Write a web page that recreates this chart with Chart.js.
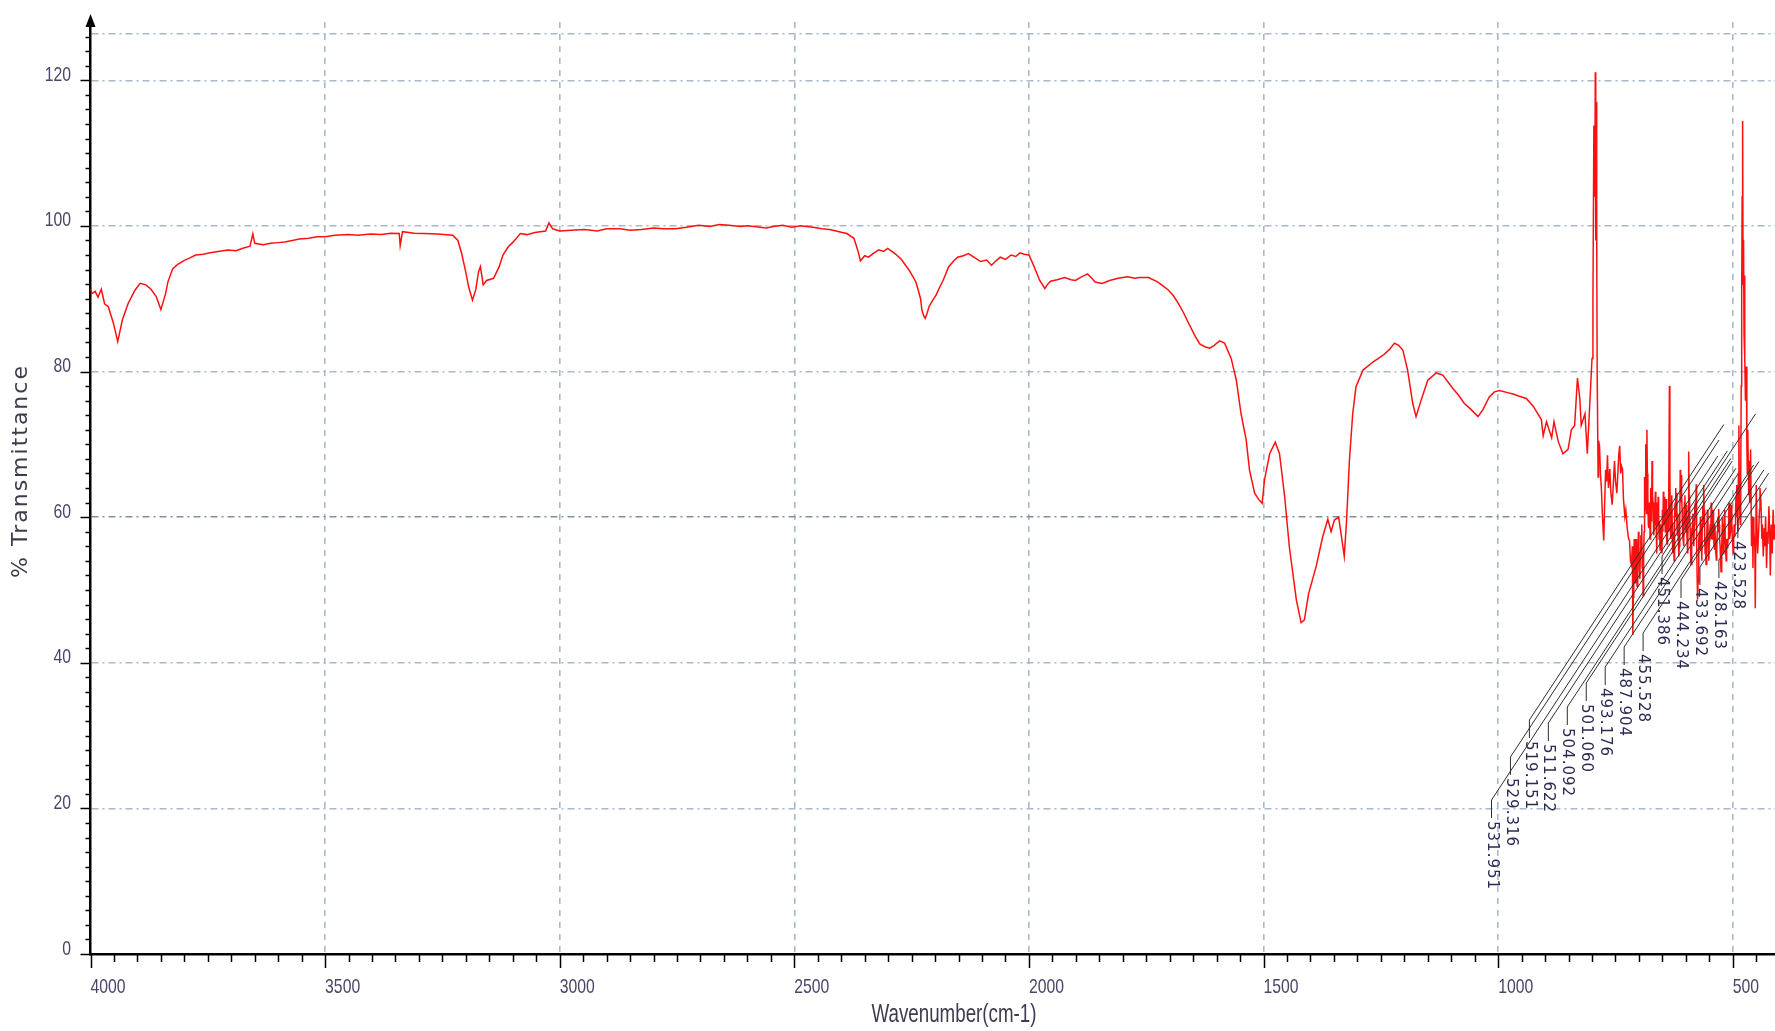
<!DOCTYPE html>
<html>
<head>
<meta charset="utf-8">
<title>IR spectrum</title>
<script src="https://cdn.jsdelivr.net/npm/chart.js@4.4.3/dist/chart.umd.min.js"></script>
<style>
  html, body { margin: 0; padding: 0; background: #fff; }
  #wrap { width: 1775px; height: 1031px; }
</style>
</head>
<body>
<div id="wrap"><canvas id="ir" width="1775" height="1031"></canvas></div>
<script>
// spectrum 4000-2000 cm-1
const wnHigh = [
  4000, 3997, 3990, 3984, 3977, 3970, 3962, 3951, 3942, 3932, 3920, 3905, 3894, 3882, 3871, 3860, 3850, 3840,
  3835, 3825, 3814, 3799, 3788, 3776, 3760, 3745, 3725, 3707, 3690, 3677, 3660, 3654, 3650, 3632, 3616, 3600,
  3586, 3570, 3555, 3535, 3517, 3500, 3479, 3450, 3430, 3403, 3380, 3360, 3342, 3340, 3335, 3310, 3289, 3260,
  3228, 3217, 3209, 3201, 3194, 3186, 3179, 3173, 3169, 3163, 3156, 3141, 3129, 3121, 3110, 3099, 3084, 3070,
  3053, 3030, 3023, 3015, 3000, 2975, 2947, 2920, 2900, 2871, 2850, 2825, 2800, 2780, 2753, 2730, 2704, 2680,
  2660, 2639, 2615, 2600, 2586, 2560, 2545, 2525, 2505, 2487, 2460, 2441, 2425, 2411, 2398, 2388, 2373, 2365,
  2359, 2350, 2342, 2330, 2320, 2310, 2301, 2290, 2282, 2272, 2263, 2255, 2247, 2241, 2236, 2231, 2228, 2224,
  2221, 2217, 2213, 2205, 2198, 2190, 2183, 2171, 2160, 2152, 2140, 2129, 2115, 2103, 2090, 2080, 2070, 2061,
  2050, 2038, 2028, 2019, 2010, 2000
];
const tHigh = [
  91.4, 90.7, 91.0, 90.2, 91.3, 89.3, 88.9, 86.6, 84.1, 87.1, 89.3, 91.2, 92.1, 91.9, 91.3, 90.3, 88.5, 90.7,
  92.3, 94.1, 94.7, 95.3, 95.6, 96.0, 96.1, 96.3, 96.5, 96.7, 96.6, 96.9, 97.2, 98.9, 97.6, 97.4, 97.6, 97.7,
  97.8, 98.0, 98.2, 98.3, 98.5, 98.5, 98.7, 98.8, 98.7, 98.9, 98.8, 99.0, 98.95, 97.3, 99.2, 99.0, 98.95, 98.9,
  98.7, 98.0, 96.2, 93.9, 91.6, 89.8, 91.2, 93.7, 94.4, 91.9, 92.5, 92.8, 94.4, 96.0, 97.1, 97.8, 98.95, 98.8,
  99.1, 99.3, 100.4, 99.6, 99.3, 99.4, 99.5, 99.3, 99.6, 99.6, 99.4, 99.5, 99.7, 99.6, 99.6, 99.8, 100.1, 99.9,
  100.2, 100.1, 99.9, 100.0, 99.9, 99.7, 99.9, 100.1, 99.8, 100.0, 99.8, 99.6, 99.5, 99.3, 99.1, 98.95, 98.3, 96.7,
  95.2, 95.9, 95.7, 96.3, 96.7, 96.5, 96.9, 96.4, 96.0, 95.4, 94.6, 93.9, 93.0, 92.3, 91.2, 90.0, 88.4, 87.6,
  87.3, 88.0, 88.9, 89.8, 90.5, 91.6, 92.5, 94.4, 95.2, 95.7, 95.9, 96.2, 95.6, 95.1, 95.3, 94.6, 95.2, 95.7,
  95.4, 96.0, 95.8, 96.3, 96.1, 96.0
];

// spectrum 1999-800 cm-1
const wnMid = [
  1989, 1977, 1966, 1960, 1954, 1940, 1924, 1910, 1901, 1888, 1875, 1866,
  1859, 1844, 1828, 1810, 1790, 1775, 1764, 1745, 1726, 1715, 1703, 1692, 1681, 1670, 1661, 1647, 1636, 1625,
  1615, 1605, 1594, 1583, 1569, 1558, 1548, 1537, 1530, 1519, 1510, 1503, 1498, 1487, 1475, 1466, 1455, 1445,
  1430, 1420, 1413, 1404, 1388, 1374, 1363, 1356, 1349, 1340, 1335, 1328, 1323, 1317, 1310, 1303, 1288, 1267,
  1246, 1232, 1221, 1212, 1203, 1193, 1182, 1175, 1164, 1150, 1132, 1118, 1097, 1085, 1072, 1058, 1043, 1033,
  1019, 1008, 997, 980, 968, 955, 940, 925, 908, 904, 897, 886, 881, 872, 862, 851, 844, 837, 831, 826, 823, 815,
  810, 805, 800
];
const tMid = [
  94.4, 92.5, 91.4, 92.0, 92.4, 92.6, 92.9, 92.6, 92.5, 93.0, 93.4, 92.8,
  92.3, 92.1, 92.5, 92.8, 93.0, 92.8, 92.9, 92.9, 92.3, 91.8, 91.2, 90.4, 89.3, 88.0, 86.8, 85.0, 83.8, 83.4,
  83.2, 83.6, 84.2, 83.9, 81.8, 78.8, 74.2, 70.6, 66.5, 63.3, 62.4, 61.9, 65.1, 68.7, 70.3, 68.7, 62.8, 55.9,
  48.6, 45.5, 45.9, 49.5, 53.2, 57.3, 59.7, 58.0, 59.6, 60.0, 57.8, 54.6, 59.6, 67.8, 74.2, 77.9, 80.2, 81.3,
  82.2, 83.0, 83.9, 83.6, 82.9, 80.2, 75.6, 73.8, 76.1, 78.8, 79.8, 79.5, 77.7, 76.8, 75.6, 74.8, 73.8, 74.7,
  76.5, 77.2, 77.4, 77.1, 76.9, 76.6, 76.3, 75.2, 73.4, 71.2, 73.1, 70.9, 73.1, 70.4, 68.7, 69.3, 72.0, 72.6, 79.1, 76.3, 72.6, 74.2,
  68.7, 75.2, 81.8
];

// 798-713 cm-1: the big spike and the drop into the noisy end
const wnFar = [
  798, 796, 794, 793, 792, 791, 790, 789, 787, 786,
  784, 782, 780, 778, 776, 775, 773, 771, 769, 767,
  765, 762, 760, 757, 755, 752, 750, 747, 745, 743,
  741, 739, 737, 735, 733, 730, 728, 725, 722, 720,
  718, 716, 714, 713
];
const tFar = [
  90.0, 113.8, 104.0, 121.1, 98.0, 117.0, 99.0, 80.0, 65.5, 70.5,
  69.8, 66.0, 63.9, 60.5, 58.0, 56.8, 62.0, 66.5, 64.9, 68.5,
  64.0, 66.6, 63.5, 61.7, 64.0, 67.7, 65.0, 63.3, 66.0, 68.5,
  69.8, 66.0, 67.0, 66.6, 62.5, 60.1, 61.0, 58.5, 57.0, 56.8,
  54.0, 53.5, 56.0, 43.8
];

// 712-482 cm-1, every point
const wnDense = [
  712, 711, 710, 709, 708, 707, 706, 705, 704, 703,
  702, 701, 700, 699, 698, 697, 696, 695, 694, 693,
  692, 691, 690, 689, 688, 687, 686, 685, 684, 683,
  682, 681, 680, 679, 678, 677, 676, 675, 674, 673,
  672, 671, 670, 669, 668, 667, 666, 665, 664, 663,
  662, 661, 660, 659, 658, 657, 656, 655, 654, 653,
  652, 651, 650, 649, 648, 647, 646, 645, 644, 643,
  642, 641, 640, 639, 638, 637, 636, 635, 634, 633,
  632, 631, 630, 629, 628, 627, 626, 625, 624, 623,
  622, 621, 620, 619, 618, 617, 616, 615, 614, 613,
  612, 611, 610, 609, 608, 607, 606, 605, 604, 603,
  602, 601, 600, 599, 598, 597, 596, 595, 594, 593,
  592, 591, 590, 589, 588, 587, 586, 585, 584, 583,
  582, 581, 580, 579, 578, 577, 576, 575, 574, 573,
  572, 571, 570, 569, 568, 567, 566, 565, 564, 563,
  562, 561, 560, 559, 558, 557, 556, 555, 554, 553,
  552, 551, 550, 549, 548, 547, 546, 545, 544, 543,
  542, 541, 540, 539, 538, 537, 536, 535, 534, 533,
  532, 531, 530, 529, 528, 527, 526, 525, 524, 523,
  522, 521, 520, 519, 518, 517, 516, 515, 514, 513,
  512, 511, 510, 509, 508, 507, 506, 505, 504, 503,
  502, 501, 500, 499, 498, 497, 496, 495, 494, 493,
  492, 491, 490, 489, 488, 487, 486, 485, 484, 483,
  482
];
const tDense = [
  49, 52, 57, 55.7, 51, 53, 57, 55.5, 50.5, 52,
  54.6, 58, 56, 53, 51.5, 55, 57.5, 56.3, 59, 53,
  55, 49.2, 54, 58, 65.5, 61, 70, 64, 60.5, 72,
  66, 63, 59, 58.5, 62, 60.1, 57, 64, 59.5, 61,
  67.7, 63, 62, 58, 57.5, 59, 61, 63.5, 60, 58,
  55, 62, 59, 62.8, 60, 57, 59.5, 55.5, 58, 59,
  57.9, 55, 61, 58, 63.5, 61, 59, 62.8, 58, 60,
  62.5, 57, 56.3, 59, 61, 58, 63, 78, 66, 58.5,
  57, 61.1, 63, 59, 55, 58, 57.3, 54, 60, 62,
  64, 60, 63.3, 59, 57.5, 60.5, 57, 54.6, 56, 59,
  66.5, 62, 65.8, 63, 61, 58, 57, 59, 56, 62,
  63, 60, 58, 61.7, 58, 56, 55, 60, 69, 63,
  60, 58.5, 56, 53.5, 55, 57, 59, 60.5, 58, 56,
  59, 61, 62, 60, 64.5, 57, 52, 48.7, 51, 55,
  57, 58, 55.5, 60, 58, 56.3, 54, 59, 61.5, 59,
  64.4, 61, 58, 55, 57, 53.5, 55, 57, 61, 59.5,
  56, 54, 56.8, 58, 59, 57, 62, 59, 57, 60.1,
  61, 58, 56, 55.5, 59, 57, 55, 54.1, 56, 58,
  60, 58, 61.1, 59, 57, 56, 54, 52.5, 54, 56,
  60, 58.5, 55, 57, 59, 61, 57, 55, 54, 56,
  57, 55.7, 57, 59, 62, 60.5, 57, 58, 60, 61.7,
  59, 57, 56, 55, 57, 59, 57.3, 59, 61, 63,
  60, 64.4, 61, 58, 66, 72.6, 63, 60.5, 59, 66,
  78
];

// 481-411 cm-1: second spike and the cut-off end
const wnTail = [
  481, 480, 479, 478, 477, 476, 475, 474, 473, 471,
  470, 469, 468, 466, 465, 464, 462, 460, 458, 457,
  456, 455, 453, 452, 450, 448, 447, 445, 443, 442,
  440, 438, 437, 435, 433, 432, 430, 428, 426, 425,
  423, 421, 420, 418, 416, 414, 412, 411
];
const tTail = [
  90.5, 104.0, 114.4, 92.0, 98.1, 85.0, 93.2, 82.0, 76.0, 80.7,
  70.0, 66.0, 72.0, 63.0, 67.7, 62.0, 69.3, 56.0, 60.0, 53.0,
  60.0, 58.0, 56.0, 47.5, 64.4, 57.0, 55.0, 57.9, 61.0, 64.0,
  62.2, 57.0, 59.0, 54.6, 58.5, 56.0, 60.1, 53.0, 58.0, 56.3,
  61.5, 57.0, 52.0, 59.0, 55.0, 61.0, 57.0, 59.0
];

// axis labels and peak tags
const xTickValues = [4000, 3500, 3000, 2500, 2000, 1500, 1000, 500];
const yTickValues = [0, 20, 40, 60, 80, 100, 120];
const peakTags = ['531.951', '529.316', '519.151', '511.622', '504.092', '501.060', '493.176', '487.904',
                  '455.528', '451.386', '444.234', '433.692', '428.163', '423.528'];

// tag layout (pixels): first tag x, spacing, top of each short leader
const tagX0 = 1491.5, tagStep = 18.95, tagLeader = 18, tagSlope = 1.52;
const tagTopY = [800, 757, 720, 723, 707, 683, 667, 647, 633, 556, 580, 567, 560, 520];

const wavenumbers = wnHigh.concat(wnMid, wnFar, wnDense, wnTail);
const transmittance = tHigh.concat(tMid, tFar, tDense, tTail);

const SANS = "'Liberation Sans', Arial, sans-serif";
const SQUEEZE = 0.75; // the instrument font is a condensed one

function squeezed(ctx, text, x, y, align) {
  ctx.save();
  ctx.translate(x, y);
  ctx.scale(SQUEEZE, 1);
  ctx.textAlign = align;
  ctx.fillText(text, 0, 0);
  ctx.restore();
}

const axisDecor = {
  id: 'axisDecor',
  afterDraw(chart) {
    const { ctx, chartArea: a, scales: { x, y } } = chart;
    ctx.save();
    ctx.strokeStyle = '#000';
    ctx.lineWidth = 1.5;
    ctx.beginPath();
    // y ticks every 2 %, longer on the labelled ones
    for (let v = 0; v <= 126; v += 2) {
      const py = Math.round(y.getPixelForValue(v)) + 0.5;
      const len = v % 20 === 0 ? 10 : 5;
      ctx.moveTo(a.left - len, py);
      ctx.lineTo(a.left, py);
    }
    // x ticks every 50 cm-1
    for (let w = 4000; w > x.min; w -= 50) {
      const px = Math.round(x.getPixelForValue(w)) + 0.5;
      const len = w % 500 === 0 ? 14 : 8;
      ctx.moveTo(px, a.bottom);
      ctx.lineTo(px, a.bottom + len);
    }
    ctx.stroke();

    // y axis runs up past the plot into an arrow head
    ctx.lineWidth = 2.5;
    ctx.beginPath();
    ctx.moveTo(a.left, a.top);
    ctx.lineTo(a.left, 24);
    ctx.stroke();
    ctx.fillStyle = '#000';
    ctx.beginPath();
    ctx.moveTo(a.left, 14);
    ctx.lineTo(a.left - 5, 27);
    ctx.lineTo(a.left + 5, 27);
    ctx.closePath();
    ctx.fill();

    // tick labels
    ctx.fillStyle = '#4a4668';
    ctx.font = '21px ' + SANS;
    ctx.textBaseline = 'alphabetic';
    xTickValues.forEach(v => squeezed(ctx, String(v), x.getPixelForValue(v), 993, 'left'));
    yTickValues.forEach(v => squeezed(ctx, String(v), 71, y.getPixelForValue(v) + 0.5, 'right'));

    // axis titles
    ctx.fillStyle = '#3c3c4c';
    ctx.font = '25px ' + SANS;
    squeezed(ctx, 'Wavenumber(cm-1)', 954, 1022, 'center');
    ctx.translate(21, 471);
    ctx.rotate(-Math.PI / 2);
    ctx.font = "22px 'DejaVu Sans', sans-serif";
    ctx.textAlign = 'center';
    ctx.textBaseline = 'middle';
    if ('letterSpacing' in ctx) ctx.letterSpacing = '2px';
    ctx.fillText('% Transmittance', 0, 0);
    ctx.restore();
  }
};

const peakMarks = {
  id: 'peakMarks',
  afterDatasetsDraw(chart) {
    const { ctx, scales: { x } } = chart;
    ctx.save();
    ctx.strokeStyle = '#2e2e2e';
    ctx.lineWidth = 1;
    ctx.fillStyle = '#2a2a52';
    ctx.font = "15px 'DejaVu Sans', sans-serif";
    ctx.textBaseline = 'middle';
    ctx.textAlign = 'left';
    peakTags.forEach((tag, i) => {
      const lx = tagX0 + tagStep * i;
      const top = tagTopY[i];
      const px = x.getPixelForValue(parseFloat(tag));
      const endY = top - tagSlope * (px - lx);
      ctx.beginPath();
      ctx.moveTo(px, endY);
      ctx.lineTo(lx, top);
      ctx.lineTo(lx, top + tagLeader);
      ctx.stroke();
      ctx.save();
      ctx.translate(lx, top + tagLeader + 3);
      ctx.rotate(Math.PI / 2);
      if ('letterSpacing' in ctx) ctx.letterSpacing = '1px';
      ctx.fillText(tag, 0, 0);
      ctx.restore();
    });
    ctx.restore();
  }
};

new Chart(document.getElementById('ir'), {
  type: 'line',
  data: {
    datasets: [{
      data: wavenumbers.map((w, i) => ({ x: w, y: transmittance[i] })),
      borderColor: '#ff1010',
      borderWidth: 1.5,
      pointRadius: 0,
      tension: 0,
      fill: false
    }]
  },
  options: {
    responsive: false,
    animation: false,
    devicePixelRatio: 1,
    layout: { padding: { top: 22, right: 0, left: 0, bottom: 0 } },
    plugins: { legend: { display: false }, tooltip: { enabled: false } },
    scales: {
      x: {
        type: 'linear',
        reverse: true,
        min: 410,
        max: 4000,
        afterBuildTicks(s) { s.ticks = xTickValues.map(v => ({ value: v })); },
        afterFit(s) { s.height = 77; },
        ticks: { display: false },
        grid: {
          drawTicks: false,
          color: c => c.tick && c.tick.value === 4000 ? 'rgba(0,0,0,0)' : '#a7b9ca',
          lineWidth: 1.6
        },
        border: { display: true, color: '#000', width: 2.5, dash: [6, 6] }
      },
      y: {
        min: 0,
        max: 128,
        afterBuildTicks(s) { s.ticks = yTickValues.concat([126.4]).map(v => ({ value: v })); },
        afterFit(s) { s.width = 90.5; },
        ticks: { display: false },
        grid: {
          drawTicks: false,
          color: c => c.tick && c.tick.value === 60 ? '#7f90a2' : '#a7b9ca',
          lineWidth: 1.5
        },
        border: { display: true, color: '#000', width: 2.5, dash: [7, 4, 2, 4] }
      }
    }
  },
  plugins: [axisDecor, peakMarks]
});
</script>
</body>
</html>
